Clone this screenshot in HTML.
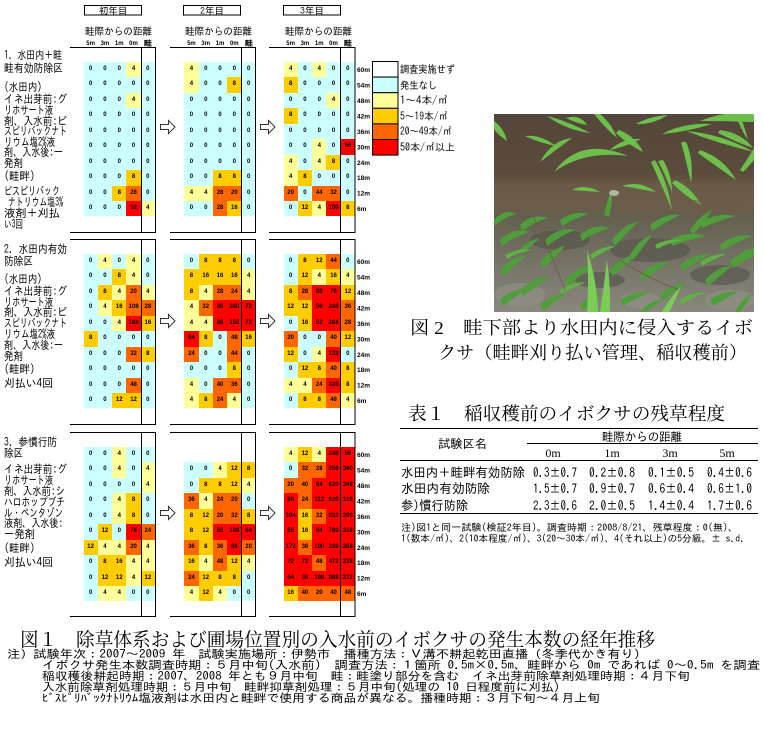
<!DOCTYPE html>
<html><head><meta charset="utf-8">
<style>
html,body{margin:0;padding:0;background:#fff;width:763px;height:731px;overflow:hidden;position:relative}
.gr{position:absolute;display:grid;grid-template-columns:repeat(5,14.3px);grid-auto-rows:15.45px;}
.gr i{font:bold 6px/15.45px "Liberation Sans",sans-serif;text-align:center;font-style:normal;color:#000;display:block}
.b{background:#CCFFFF}.y{background:#FFFF99}.g{background:#FFCC00}.o{background:#FF6600}.r{background:#FF0000}.w{background:transparent}
svg{position:absolute;left:0;top:0}
.jg{font-family:"IPAGothic","Noto Sans CJK JP",sans-serif;}
.js{font-family:"Liberation Serif","Noto Serif CJK SC",serif;}
.sm{font:bold 6px "Liberation Sans",sans-serif;}
</style></head><body>

<!-- Section 1 -->
<div class="gr" style="left:83.5px;top:62px">
<i class=b>0</i><i class=b>0</i><i class=b>0</i><i class=y>4</i><i class=b>0</i>
<i class=b>0</i><i class=b>0</i><i class=b>0</i><i class=b>0</i><i class=b>0</i>
<i class=b>0</i><i class=b>0</i><i class=b>0</i><i class=y>4</i><i class=b>0</i>
<i class=b>0</i><i class=b>0</i><i class=b>0</i><i class=b>0</i><i class=b>0</i>
<i class=b>0</i><i class=b>0</i><i class=b>0</i><i class=b>0</i><i class=b>0</i>
<i class=b>0</i><i class=b>0</i><i class=b>0</i><i class=b>0</i><i class=b>0</i>
<i class=b>0</i><i class=b>0</i><i class=b>0</i><i class=b>0</i><i class=b>0</i>
<i class=b>0</i><i class=b>0</i><i class=b>0</i><i class=g>8</i><i class=b>0</i>
<i class=b>0</i><i class=b>0</i><i class=g>8</i><i class=o>28</i><i class=b>0</i>
<i class=b>0</i><i class=b>0</i><i class=b>0</i><i class=r>52</i><i class=y>4</i>
</div>
<div class="gr" style="left:184.3px;top:62px">
<i class=y>4</i><i class=b>0</i><i class=b>0</i><i class=b>0</i><i class=b>0</i>
<i class=y>4</i><i class=b>0</i><i class=b>0</i><i class=g>8</i><i class=b>0</i>
<i class=b>0</i><i class=b>0</i><i class=b>0</i><i class=b>0</i><i class=b>0</i>
<i class=b>0</i><i class=b>0</i><i class=b>0</i><i class=b>0</i><i class=b>0</i>
<i class=b>0</i><i class=b>0</i><i class=b>0</i><i class=b>0</i><i class=b>0</i>
<i class=b>0</i><i class=b>0</i><i class=b>0</i><i class=b>0</i><i class=b>0</i>
<i class=b>0</i><i class=b>0</i><i class=b>0</i><i class=b>0</i><i class=b>0</i>
<i class=b>0</i><i class=b>0</i><i class=g>8</i><i class=g>8</i><i class=b>0</i>
<i class=y>4</i><i class=y>4</i><i class=o>28</i><i class=o>20</i><i class=b>0</i>
<i class=b>0</i><i class=b>0</i><i class=o>28</i><i class=g>16</i><i class=b>0</i>
</div>
<div class="gr" style="left:283.5px;top:62px">
<i class=y>4</i><i class=b>0</i><i class=y>4</i><i class=b>0</i><i class=b>0</i>
<i class=g>8</i><i class=b>0</i><i class=b>0</i><i class=b>0</i><i class=b>0</i>
<i class=b>0</i><i class=b>0</i><i class=b>0</i><i class=y>4</i><i class=b>0</i>
<i class=g>8</i><i class=b>0</i><i class=b>0</i><i class=b>0</i><i class=b>0</i>
<i class=b>0</i><i class=b>0</i><i class=b>0</i><i class=b>0</i><i class=b>0</i>
<i class=b>0</i><i class=b>0</i><i class=y>4</i><i class=b>0</i><i class=r>56</i>
<i class=y>4</i><i class=b>0</i><i class=y>4</i><i class=g>8</i><i class=b>0</i>
<i class=y>4</i><i class=g>8</i><i class=b>0</i><i class=b>0</i><i class=b>0</i>
<i class=o>20</i><i class=b>0</i><i class=o>44</i><i class=o>32</i><i class=b>0</i>
<i class=b>0</i><i class=g>12</i><i class=y>4</i><i class=r>100</i><i class=g>8</i>
</div>

<!-- Section 2 -->
<div class="gr" style="left:83.5px;top:254px">
<i class=b>0</i><i class=y>4</i><i class=b>0</i><i class=y>4</i><i class=b>0</i>
<i class=b>0</i><i class=b>0</i><i class=g>8</i><i class=y>4</i><i class=b>0</i>
<i class=b>0</i><i class=g>8</i><i class=y>4</i><i class=o>20</i><i class=y>4</i>
<i class=b>0</i><i class=y>4</i><i class=g>16</i><i class=o>108</i><i class=o>28</i>
<i class=b>0</i><i class=b>0</i><i class=y>4</i><i class=r>168</i><i class=g>16</i>
<i class=g>8</i><i class=b>0</i><i class=b>0</i><i class=b>0</i><i class=b>0</i>
<i class=b>0</i><i class=b>0</i><i class=b>0</i><i class=o>32</i><i class=g>8</i>
<i class=b>0</i><i class=b>0</i><i class=b>0</i><i class=b>0</i><i class=b>0</i>
<i class=b>0</i><i class=b>0</i><i class=b>0</i><i class=o>48</i><i class=b>0</i>
<i class=b>0</i><i class=b>0</i><i class=g>12</i><i class=g>12</i><i class=b>0</i>
</div>
<div class="gr" style="left:184.3px;top:254px">
<i class=b>0</i><i class=g>8</i><i class=g>8</i><i class=g>8</i><i class=b>0</i>
<i class=g>8</i><i class=g>16</i><i class=g>16</i><i class=g>16</i><i class=y>4</i>
<i class=g>8</i><i class=y>4</i><i class=o>28</i><i class=o>24</i><i class=y>4</i>
<i class=y>4</i><i class=o>32</i><i class=r>80</i><i class=r>240</i><i class=r>72</i>
<i class=y>4</i><i class=y>4</i><i class=r>88</i><i class=r>152</i><i class=r>72</i>
<i class=r>64</i><i class=g>8</i><i class=b>0</i><i class=o>48</i><i class=g>16</i>
<i class=o>24</i><i class=b>0</i><i class=b>0</i><i class=o>44</i><i class=b>0</i>
<i class=b>0</i><i class=b>0</i><i class=b>0</i><i class=g>8</i><i class=b>0</i>
<i class=y>4</i><i class=b>0</i><i class=o>40</i><i class=o>36</i><i class=b>0</i>
<i class=y>4</i><i class=g>8</i><i class=o>24</i><i class=y>4</i><i class=b>0</i>
</div>
<div class="gr" style="left:283.5px;top:254px">
<i class=b>0</i><i class=g>8</i><i class=g>12</i><i class=o>44</i><i class=b>0</i>
<i class=b>0</i><i class=g>12</i><i class=y>4</i><i class=g>16</i><i class=y>4</i>
<i class=g>8</i><i class=o>28</i><i class=r>88</i><i class=r>76</i><i class=g>12</i>
<i class=g>12</i><i class=g>12</i><i class=r>56</i><i class=r>248</i><i class=o>36</i>
<i class=b>0</i><i class=g>16</i><i class=r>52</i><i class=r>364</i><i class=o>28</i>
<i class=o>20</i><i class=b>0</i><i class=b>0</i><i class=o>40</i><i class=g>12</i>
<i class=g>12</i><i class=b>0</i><i class=y>4</i><i class=r>132</i><i class=b>0</i>
<i class=b>0</i><i class=g>12</i><i class=g>8</i><i class=o>40</i><i class=g>8</i>
<i class=y>4</i><i class=y>4</i><i class=o>24</i><i class=r>328</i><i class=g>8</i>
<i class=b>0</i><i class=g>8</i><i class=g>8</i><i class=o>48</i><i class=y>4</i>
</div>

<!-- Section 3 -->
<div class="gr" style="left:83.5px;top:447px">
<i class=b>0</i><i class=b>0</i><i class=y>4</i><i class=b>0</i><i class=b>0</i>
<i class=b>0</i><i class=b>0</i><i class=y>4</i><i class=b>0</i><i class=y>4</i>
<i class=b>0</i><i class=b>0</i><i class=b>0</i><i class=b>0</i><i class=y>4</i>
<i class=b>0</i><i class=b>0</i><i class=y>4</i><i class=g>8</i><i class=b>0</i>
<i class=b>0</i><i class=b>0</i><i class=y>4</i><i class=g>8</i><i class=b>0</i>
<i class=b>0</i><i class=g>12</i><i class=b>0</i><i class=r>76</i><i class=o>24</i>
<i class=g>12</i><i class=y>4</i><i class=y>4</i><i class=o>20</i><i class=y>4</i>
<i class=b>0</i><i class=g>8</i><i class=g>16</i><i class=y>4</i><i class=y>4</i>
<i class=b>0</i><i class=g>12</i><i class=g>12</i><i class=y>4</i><i class=g>12</i>
<i class=b>0</i><i class=y>4</i><i class=y>4</i><i class=b>0</i><i class=b>0</i>
</div>
<div class="gr" style="left:184.3px;top:447px">
<i class=w></i><i class=w></i><i class=w></i><i class=w></i><i class=w></i>
<i class=b>0</i><i class=b>0</i><i class=y>4</i><i class=g>12</i><i class=g>8</i>
<i class=b>0</i><i class=g>8</i><i class=g>8</i><i class=g>12</i><i class=y>4</i>
<i class=o>36</i><i class=y>4</i><i class=o>24</i><i class=o>20</i><i class=b>0</i>
<i class=g>8</i><i class=g>12</i><i class=o>20</i><i class=o>32</i><i class=g>8</i>
<i class=g>8</i><i class=g>12</i><i class=r>52</i><i class=r>108</i><i class=r>64</i>
<i class=o>36</i><i class=g>8</i><i class=o>36</i><i class=r>88</i><i class=o>20</i>
<i class=g>16</i><i class=y>4</i><i class=o>48</i><i class=g>12</i><i class=y>4</i>
<i class=o>24</i><i class=g>12</i><i class=g>8</i><i class=g>8</i><i class=b>0</i>
<i class=y>4</i><i class=g>12</i><i class=y>4</i><i class=b>0</i><i class=b>0</i>
</div>
<div class="gr" style="left:283.5px;top:447px">
<i class=y>4</i><i class=g>12</i><i class=y>4</i><i class=r>248</i><i class=r>56</i>
<i class=b>0</i><i class=o>32</i><i class=o>28</i><i class=r>356</i><i class=r>360</i>
<i class=o>20</i><i class=o>40</i><i class=r>64</i><i class=r>620</i><i class=r>248</i>
<i class=r>88</i><i class=o>24</i><i class=r>112</i><i class=r>620</i><i class=r>116</i>
<i class=r>104</i><i class=g>16</i><i class=o>32</i><i class=r>832</i><i class=r>200</i>
<i class=r>56</i><i class=g>16</i><i class=r>64</i><i class=r>780</i><i class=r>316</i>
<i class=r>172</i><i class=o>36</i><i class=r>100</i><i class=r>336</i><i class=r>288</i>
<i class=r>72</i><i class=r>72</i><i class=o>48</i><i class=r>472</i><i class=r>228</i>
<i class=r>64</i><i class=r>36</i><i class=r>108</i><i class=r>888</i><i class=r>232</i>
<i class=g>16</i><i class=o>40</i><i class=o>20</i><i class=o>40</i><i class=o>48</i>
</div>

<svg width="763" height="731" viewBox="0 0 763 731" xmlns="http://www.w3.org/2000/svg">
<!-- year header boxes -->
<g fill="none" stroke="#000" stroke-width="1">
<rect x="84.5" y="5.5" width="57" height="9.5"/>
<rect x="183.5" y="5.5" width="57" height="9.5"/>
<rect x="283.5" y="5.5" width="57" height="9.5"/>
</g>
<g class="jg" font-size="9.5" text-anchor="middle">
<text x="113" y="14">初年目</text>
<text x="212" y="14">2年目</text>
<text x="312" y="14">3年目</text>
</g>
<g class="jg" font-size="10.5">
<text x="85" y="35" textLength="67" lengthAdjust="spacingAndGlyphs">畦際からの距離</text>
<text x="185" y="35" textLength="67" lengthAdjust="spacingAndGlyphs">畦際からの距離</text>
<text x="285" y="35" textLength="67" lengthAdjust="spacingAndGlyphs">畦際からの距離</text>
</g>
<!-- column labels -->
<g class="sm" text-anchor="middle">
<text x="90.6" y="45">5m</text><text x="104.9" y="45">3m</text><text x="119.2" y="45">1m</text><text x="133.5" y="45">0m</text>
<text x="191.4" y="45">5m</text><text x="205.7" y="45">3m</text><text x="220" y="45">1m</text><text x="234.3" y="45">0m</text>
<text x="290.6" y="45">5m</text><text x="304.9" y="45">3m</text><text x="319.2" y="45">1m</text><text x="333.5" y="45">0m</text>
</g>
<g class="jg" font-size="8" font-weight="bold" text-anchor="middle">
<text x="148" y="46">畦</text><text x="249" y="46">畦</text><text x="348" y="46">畦</text>
</g>
<!-- structure lines -->
<g stroke="#000" stroke-width="1" fill="none">
<path d="M70 47.5H155.5M170 47.5H255.5M269 47.5H355.5"/>
<path d="M70 232.5H155.5M170 232.5H255.5M269 232.5H355.5"/>
<path d="M70 239.5H155.5M170 239.5H255.5M269 239.5H355.5"/>
<path d="M70 424.5H155.5M170 424.5H255.5M269 424.5H355.5"/>
<path d="M70 432.5H155.5M170 432.5H255.5M269 432.5H355.5"/>
<path d="M70 616.5H155.5M170 616.5H255.5M269 616.5H355.5"/>
<path d="M141.5 47V233M155.5 47V233M241.5 47V233M255.5 47V233M340.5 47V233M355 47V233"/>
<path d="M141.5 239V425M155.5 239V425M241.5 239V425M255.5 239V425M340.5 239V425M355 239V425"/>
<path d="M141.5 432V617M155.5 432V617M241.5 432V617M255.5 432V617M340.5 432V617M355 432V617"/>
</g>
<!-- row labels -->
<g font-family="Liberation Sans,sans-serif" font-weight="bold" font-size="6.5">
<text x="357" y="72">60m</text><text x="357" y="87.5">54m</text><text x="357" y="103">48m</text><text x="357" y="118.5">42m</text><text x="357" y="134">36m</text><text x="357" y="149.5">30m</text><text x="357" y="164.8">24m</text><text x="357" y="180.2">18m</text><text x="357" y="195.7">12m</text><text x="357" y="211.2">6m</text>
<text x="357" y="264">60m</text><text x="357" y="279.5">54m</text><text x="357" y="295">48m</text><text x="357" y="310.5">42m</text><text x="357" y="326">36m</text><text x="357" y="341.5">30m</text><text x="357" y="356.8">24m</text><text x="357" y="372.2">18m</text><text x="357" y="387.7">12m</text><text x="357" y="403.2">6m</text>
<text x="357" y="457">60m</text><text x="357" y="472.5">54m</text><text x="357" y="488">48m</text><text x="357" y="503.5">42m</text><text x="357" y="519">36m</text><text x="357" y="534.5">30m</text><text x="357" y="549.8">24m</text><text x="357" y="565.2">18m</text><text x="357" y="580.7">12m</text><text x="357" y="596.2">6m</text>
</g>
<!-- arrows -->
<g fill="#fff" stroke="#333" stroke-width="1">
<path d="M160.5 124.5H168.5V120.5L175 127L168.5 133.5V129.5H160.5Z"/>
<path d="M260.5 124.5H268.5V120.5L275 127L268.5 133.5V129.5H260.5Z"/>
<path d="M160.5 318.5H168.5V314.5L175 321L168.5 327.5V323.5H160.5Z"/>
<path d="M260.5 318.5H268.5V314.5L275 321L268.5 327.5V323.5H260.5Z"/>
<path d="M160.5 510.5H168.5V506.5L175 513L168.5 519.5V515.5H160.5Z"/>
<path d="M260.5 510.5H268.5V506.5L275 513L268.5 519.5V515.5H260.5Z"/>
</g>
<!-- left labels -->
<g class="jg" font-size="11.5">
<text x="4" y="59" textLength="58" lengthAdjust="spacingAndGlyphs">1. 水田内＋畦</text>
<text x="4" y="72" textLength="59" lengthAdjust="spacingAndGlyphs">畦有効防除区</text>
<text x="4" y="91" textLength="38" lengthAdjust="spacingAndGlyphs">(水田内)</text>
<text x="4" y="103" textLength="63" lengthAdjust="spacingAndGlyphs">イネ出芽前:グ</text>
<text x="4" y="114" textLength="49" lengthAdjust="spacingAndGlyphs">リホサート液</text>
<text x="4" y="125" textLength="63" lengthAdjust="spacingAndGlyphs">剤、入水前:ビ</text>
<text x="4" y="135" textLength="63" lengthAdjust="spacingAndGlyphs">スピリバックナト</text>
<text x="4" y="146" textLength="51" lengthAdjust="spacingAndGlyphs">リウム塩2%液</text>
<text x="4" y="156" textLength="59" lengthAdjust="spacingAndGlyphs">剤、入水後:一</text>
<text x="4" y="167" textLength="19" lengthAdjust="spacingAndGlyphs">発剤</text>
<text x="4" y="180" textLength="31" lengthAdjust="spacingAndGlyphs">(畦畔)</text>
<text x="4" y="195" textLength="56" lengthAdjust="spacingAndGlyphs">ビスピリバック</text>
<text x="8" y="206" textLength="55" lengthAdjust="spacingAndGlyphs">ナトリウム塩3%</text>
<text x="4" y="217" textLength="56" lengthAdjust="spacingAndGlyphs">液剤＋刈払</text>
<text x="4" y="228" textLength="19" lengthAdjust="spacingAndGlyphs">い3回</text>

<text x="4" y="253" textLength="63" lengthAdjust="spacingAndGlyphs">2. 水田内有効</text>
<text x="4" y="265" textLength="29" lengthAdjust="spacingAndGlyphs">防除区</text>
<text x="4" y="283" textLength="38" lengthAdjust="spacingAndGlyphs">(水田内)</text>
<text x="4" y="295" textLength="63" lengthAdjust="spacingAndGlyphs">イネ出芽前:グ</text>
<text x="4" y="306" textLength="49" lengthAdjust="spacingAndGlyphs">リホサート液</text>
<text x="4" y="316" textLength="63" lengthAdjust="spacingAndGlyphs">剤、入水前:ビ</text>
<text x="4" y="327" textLength="63" lengthAdjust="spacingAndGlyphs">スピリバックナト</text>
<text x="4" y="338" textLength="51" lengthAdjust="spacingAndGlyphs">リウム塩2%液</text>
<text x="4" y="349" textLength="59" lengthAdjust="spacingAndGlyphs">剤、入水後:一</text>
<text x="4" y="360" textLength="19" lengthAdjust="spacingAndGlyphs">発剤</text>
<text x="4" y="373" textLength="31" lengthAdjust="spacingAndGlyphs">(畦畔)</text>
<text x="4" y="387" textLength="49" lengthAdjust="spacingAndGlyphs">刈払い4回</text>

<text x="4" y="446" textLength="53" lengthAdjust="spacingAndGlyphs">3. 参慣行防</text>
<text x="4" y="457" textLength="19" lengthAdjust="spacingAndGlyphs">除区</text>
<text x="4" y="473" textLength="63" lengthAdjust="spacingAndGlyphs">イネ出芽前:グ</text>
<text x="4" y="484" textLength="49" lengthAdjust="spacingAndGlyphs">リホサート液</text>
<text x="4" y="495" textLength="61" lengthAdjust="spacingAndGlyphs">剤、入水前:シ</text>
<text x="4" y="506" textLength="61" lengthAdjust="spacingAndGlyphs">ハロホップブチ</text>
<text x="4" y="517" textLength="59" lengthAdjust="spacingAndGlyphs">ル・ペンタゾン</text>
<text x="4" y="527" textLength="59" lengthAdjust="spacingAndGlyphs">液剤、入水後:</text>
<text x="4" y="538" textLength="31" lengthAdjust="spacingAndGlyphs">ー発剤</text>
<text x="4" y="552" textLength="31" lengthAdjust="spacingAndGlyphs">(畦畔)</text>
<text x="4" y="566" textLength="49" lengthAdjust="spacingAndGlyphs">刈払い4回</text>
</g>

<!-- legend -->
<g stroke="#000" stroke-width="1">
<rect x="372.5" y="61.5" width="25.5" height="15.6" fill="#fff"/>
<rect x="372.5" y="77.1" width="25.5" height="15.6" fill="#CCFFFF"/>
<rect x="372.5" y="92.7" width="25.5" height="15.6" fill="#FFFF99"/>
<rect x="372.5" y="108.3" width="25.5" height="15.6" fill="#FFCC00"/>
<rect x="372.5" y="123.9" width="25.5" height="15.6" fill="#FF6600"/>
<rect x="372.5" y="139.5" width="25.5" height="15.6" fill="#FF0000"/>
</g>
<g class="jg" font-size="10.5">
<text x="400" y="73" textLength="55" lengthAdjust="spacingAndGlyphs">調査実施せず</text>
<text x="400" y="89" textLength="37" lengthAdjust="spacingAndGlyphs">発生なし</text>
<text x="400" y="104" textLength="48" lengthAdjust="spacingAndGlyphs">1～4本/㎡</text>
<text x="400" y="120" textLength="48" lengthAdjust="spacingAndGlyphs">5～19本/㎡</text>
<text x="400" y="135" textLength="52" lengthAdjust="spacingAndGlyphs">20～49本/㎡</text>
<text x="400" y="151" textLength="55" lengthAdjust="spacingAndGlyphs">50本/㎡以上</text>
</g>

<!-- photo -->
<defs>
<linearGradient id="pg" x1="0" y1="0" x2="0" y2="1">
<stop offset="0" stop-color="#54463a"/>
<stop offset="0.3" stop-color="#5a4b3b"/>
<stop offset="0.36" stop-color="#6a5a47"/>
<stop offset="0.48" stop-color="#6c5d4a"/>
<stop offset="0.52" stop-color="#636050"/>
<stop offset="0.72" stop-color="#747064"/>
<stop offset="1" stop-color="#8a877d"/>
</linearGradient>
<clipPath id="pc"><rect x="494" y="114" width="260" height="198"/></clipPath>
</defs>
<g clip-path="url(#pc)">
<rect x="494" y="114" width="260" height="198" fill="url(#pg)"/>
<g fill="#55524a" opacity="0.6">
<ellipse cx="560" cy="240" rx="30" ry="10"/>
<ellipse cx="650" cy="250" rx="40" ry="12"/>
<ellipse cx="720" cy="275" rx="30" ry="10"/>
<ellipse cx="600" cy="280" rx="25" ry="8"/>
</g>
<g fill="#959289" opacity="0.55">
<ellipse cx="520" cy="295" rx="25" ry="12"/>
<ellipse cx="730" cy="300" rx="25" ry="10"/>
<ellipse cx="640" cy="300" rx="20" ry="8"/>
</g>
<g fill="#6dbf4c">
<path d="M554 172Q580 136 628 156Q584 150 554 172Z"/>
<path d="M540 162Q552 140 572 138Q556 150 540 162Z"/>
<path d="M547 116Q565 120 590 133Q566 130 547 116Z"/>
<path d="M700 121Q725 111 754 112L754 122Q725 121 700 121Z"/>
<path d="M662 134Q685 122 712 124Q686 132 662 134Z"/>
<path d="M686 131Q722 134 754 152Q720 144 686 131Z"/>
<path d="M686 142Q694 160 691 183Q686 160 681 142Z"/>
<path d="M663 160Q672 175 672 192Q666 176 658 161Z"/>
<path d="M700 150Q724 158 736 180Q716 166 698 153Z"/>
<path d="M494 121Q504 128 507 141Q497 134 494 129Z"/>
<path d="M619 130Q635 136 643 152Q627 144 616 133Z"/>
<path d="M525 136Q540 134 556 146Q540 143 525 136Z"/>
<path d="M600 114Q612 124 617 138Q605 128 594 114Z"/>
<path d="M636 124Q650 116 668 115Q652 125 636 124Z"/>
<path d="M720 130Q742 133 753 148Q736 142 718 133Z"/>
<path d="M740 170Q748 158 754 148L754 160Q749 166 743 172Z"/>
<path d="M655 160Q667 180 672 210Q662 186 651 162Z"/>
<path d="M566 118Q580 114 587 125Q576 123 566 118Z"/>
<path d="M610 150Q622 138 641 139Q625 147 610 150Z"/>
<path d="M675 180Q692 188 701 205Q686 197 672 183Z"/>
<path d="M572 190Q585 183 600 192Q586 191 572 190Z"/>
<path d="M622 186Q640 180 656 192Q640 189 622 186Z"/>
<path d="M740 115Q745 128 748 140Q741 130 736 116Z"/>
</g>
<g fill="#4f9d3b">
<path d="M494 220Q505 208 516 214Q505 217 494 226Z"/>
<path d="M500 240Q515 226 530 232Q515 236 502 246Z"/>
<path d="M520 225Q532 213 548 218Q534 222 522 231Z"/>
<path d="M545 240Q560 226 575 230Q560 236 547 246Z"/>
<path d="M560 220Q574 210 588 214Q574 219 562 226Z"/>
<path d="M580 235Q595 223 610 228Q595 232 582 241Z"/>
<path d="M604 215Q607 200 612 188Q613 203 609 217Z"/>
<path d="M612 240Q625 223 638 222Q627 232 615 246Z"/>
<path d="M630 255Q640 238 652 235Q643 248 633 260Z"/>
<path d="M650 225Q665 213 680 215Q666 222 652 231Z"/>
<path d="M670 240Q688 230 705 236Q688 240 672 246Z"/>
<path d="M700 222Q718 212 735 216Q718 221 702 228Z"/>
<path d="M720 245Q735 233 752 236Q736 242 722 251Z"/>
<path d="M500 270Q512 256 526 256Q514 266 503 276Z"/>
<path d="M520 290Q535 276 550 276Q537 286 523 296Z"/>
<path d="M540 262Q552 248 565 246Q555 258 543 268Z"/>
<path d="M565 280Q578 266 592 266Q580 276 568 286Z"/>
<path d="M610 270Q622 256 636 255Q625 266 613 276Z"/>
<path d="M640 275Q655 260 670 262Q656 270 643 281Z"/>
<path d="M680 265Q695 253 710 254Q696 262 683 271Z"/>
<path d="M705 280Q718 266 732 266Q720 276 708 286Z"/>
<path d="M730 262Q742 250 754 248L754 256Q744 260 733 268Z"/>
<path d="M500 300Q512 288 526 290Q514 297 503 306Z"/>
<path d="M540 305Q552 294 566 294Q554 302 543 311Z"/>
<path d="M620 300Q635 290 650 292Q636 298 623 306Z"/>
<path d="M660 295Q672 283 686 283Q674 292 663 301Z"/>
<path d="M710 300Q722 290 738 292Q724 299 713 306Z"/>
<path d="M735 312Q742 298 752 294Q745 306 740 312Z"/>
<path d="M640 312Q650 300 662 300Q652 308 645 312Z"/>
<path d="M580 305Q590 294 602 294Q592 302 583 311Z"/>
<path d="M690 230Q700 215 712 210Q704 224 693 234Z"/>
<path d="M520 250Q528 240 540 238Q530 246 523 254Z"/>
</g>
<g fill="#5fb243">
<path d="M505 255Q518 248 532 250Q518 252 507 259Z"/>
<path d="M590 255Q602 246 616 246Q604 251 592 259Z"/>
<path d="M655 245Q668 238 682 240Q668 243 657 249Z"/>
<path d="M700 262Q712 254 726 254Q714 259 702 266Z"/>
<path d="M560 290Q572 282 586 282Q574 287 562 294Z"/>
<path d="M680 300Q692 292 706 292Q694 297 682 304Z"/>
</g>
<g stroke="#6a5a45" stroke-width="1" fill="none" opacity="0.8">
<path d="M530 210Q550 250 565 290"/>
<path d="M690 200Q720 205 754 210"/>
<path d="M620 260Q650 280 680 290"/>
</g>
<g fill="#79cc55">
<path d="M587 312Q589 280 587 250Q597 280 598 312Z"/>
<path d="M600 312Q604 285 607 260Q611 288 610 312Z"/>
<path d="M662 312Q670 298 681 286Q675 302 669 312Z"/>
</g>
<ellipse cx="614" cy="193" rx="5" ry="3" fill="#b8b3a8"/>
</g>

<!-- figure 2 caption -->
<g class="js" font-size="18">
<text x="410" y="334" textLength="343" lengthAdjust="spacingAndGlyphs">図 2　畦下部より水田内に侵入するイボ</text>
<text x="438" y="359" textLength="309" lengthAdjust="spacingAndGlyphs">クサ（畦畔刈り払い管理、稲収穫前）</text>
</g>

<!-- table 1 -->
<text class="js" x="408" y="420" font-size="18" textLength="317" lengthAdjust="spacingAndGlyphs">表１　稲収穫前のイボクサの残草程度</text>
<g stroke="#000" stroke-width="1">
<path d="M400 428.5H758M527 443.5H758M400 460.5H758M400 513.5H758"/>
</g>
<g class="jg" font-size="12">
<text x="438" y="448" textLength="49" lengthAdjust="spacingAndGlyphs">試験区名</text>
<text x="602" y="441" textLength="80" lengthAdjust="spacingAndGlyphs">畦際からの距離</text>
</g>
<g class="js" font-size="12" text-anchor="middle">
<text x="553" y="457">0m</text><text x="612" y="457">1m</text><text x="670" y="457">3m</text><text x="727" y="457">5m</text>
</g>
<g class="jg" font-size="13">
<text x="401" y="477" textLength="124" lengthAdjust="spacingAndGlyphs">水田内＋畦畔有効防除</text>
<text x="401" y="493" textLength="89" lengthAdjust="spacingAndGlyphs">水田内有効防除</text>
<text x="401" y="510" textLength="67" lengthAdjust="spacingAndGlyphs">参)慣行防除</text>
</g>
<g class="jg" font-size="13">
<text x="533" y="477" textLength="44" lengthAdjust="spacingAndGlyphs">0.3±0.7</text>
<text x="589" y="477" textLength="46" lengthAdjust="spacingAndGlyphs">0.2±0.8</text>
<text x="648" y="477" textLength="46" lengthAdjust="spacingAndGlyphs">0.1±0.5</text>
<text x="707" y="477" textLength="45" lengthAdjust="spacingAndGlyphs">0.4±0.6</text>
<text x="533" y="493" textLength="44" lengthAdjust="spacingAndGlyphs">1.5±0.7</text>
<text x="589" y="493" textLength="46" lengthAdjust="spacingAndGlyphs">0.9±0.7</text>
<text x="648" y="493" textLength="46" lengthAdjust="spacingAndGlyphs">0.6±0.4</text>
<text x="707" y="493" textLength="45" lengthAdjust="spacingAndGlyphs">0.6±1.0</text>
<text x="533" y="510" textLength="44" lengthAdjust="spacingAndGlyphs">2.3±0.6</text>
<text x="589" y="510" textLength="46" lengthAdjust="spacingAndGlyphs">2.0±0.5</text>
<text x="648" y="510" textLength="46" lengthAdjust="spacingAndGlyphs">1.4±0.4</text>
<text x="707" y="510" textLength="45" lengthAdjust="spacingAndGlyphs">1.7±0.6</text>
</g>
<g class="jg" font-size="10">
<text x="401" y="531" textLength="337" lengthAdjust="spacingAndGlyphs">注)図1と同一試験(検証2年目)。調査時期：2008/8/21、残草程度：0(無)、</text>
<text x="401" y="542" textLength="344" lengthAdjust="spacingAndGlyphs">1(数本/㎡)、2(10本程度/㎡)、3(20～30本/㎡)、4(それ以上)の5分級。± s.d.</text>
</g>

<!-- figure 1 caption and notes -->
<text class="js" x="20" y="646" font-size="19" textLength="635" lengthAdjust="spacingAndGlyphs">図１　除草体系および圃場位置別の入水前のイボクサの発生本数の経年推移</text>
<g class="jg" font-size="11.5">
<text x="7" y="658" textLength="640" lengthAdjust="spacingAndGlyphs">注）試験年次：2007～2009 年　試験実施場所：伊勢市　播種方法：Ｖ溝不耕起乾田直播（冬季代かき有り）</text>
<text x="42" y="669" textLength="718" lengthAdjust="spacingAndGlyphs">イボクサ発生本数調査時期：５月中旬(入水前)　調査方法：１箇所 0.5m×0.5m、畦畔から 0m であれば 0～0.5m を調査</text>
<text x="42" y="680" textLength="648" lengthAdjust="spacingAndGlyphs">稲収穫後耕起時期：2007、2008 年とも９月中旬　畦：畦塗り部分を含む　イネ出芽前除草剤処理時期：４月下旬</text>
<text x="42" y="691" textLength="518" lengthAdjust="spacingAndGlyphs">入水前除草剤処理時期：５月中旬　畦畔抑草剤処理：５月中旬(処理の 10 日程度前に刈払)</text>
<text x="42" y="702" textLength="558" lengthAdjust="spacingAndGlyphs">ﾋﾞｽﾋﾟﾘﾊﾞｯｸﾅﾄﾘｳﾑ塩液剤は水田内と畦畔で使用する商品が異なる。播種時期：３月下旬～４月上旬</text>
</g>
</svg>
</body></html>
